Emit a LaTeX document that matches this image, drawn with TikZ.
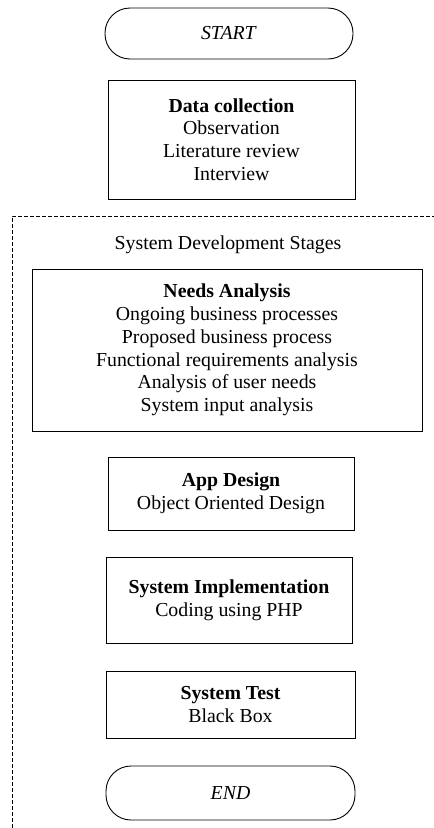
\documentclass[tikz,border=0pt]{standalone}
\usepackage{fontspec}
\setmainfont{Liberation Serif}
\usepackage{tikz}

\tikzset{
  txt/.style={font=\fontsize{19.8}{22.7}\selectfont, align=center, inner sep=0pt},
  stagebox/.style={txt, draw, line width=0.9pt, rectangle},
  terminal/.style={txt, draw, line width=0.9pt, rectangle, rounded corners=25pt}
}

\begin{document}
\begin{tikzpicture}[x=1pt, y=-1pt]
  \useasboundingbox (0,0) rectangle (434,828);

  % Start and data collection
  \node[terminal, minimum width=248pt, minimum height=51pt] (start) at (229,33.5) {\textit{START}};
  \node[stagebox, minimum width=247pt, minimum height=119pt] (data) at (231.5,139.5)
    {\textbf{Data collection}\\Observation\\Literature review\\Interview};

  % Dashed frame around the development stages (top and left side only)
  \coordinate (frameA) at (12,828);
  \coordinate (frameB) at (12,216);
  \coordinate (frameC) at (434,216);
  \draw[line width=1pt, dash pattern=on 4pt off 2pt] (frameA) -- (frameB) -- (frameC);
  \node[txt] (stages) at (228,245) {System Development Stages};

  % Stages
  \node[stagebox, minimum width=390pt, minimum height=162pt] (needs) at (227,350)
    {\textbf{Needs Analysis}\\Ongoing business processes\\Proposed business process\\
     Functional requirements analysis\\Analysis of user needs\\System input analysis};
  \node[stagebox, minimum width=246pt, minimum height=73pt] (design) at (231,493.5)
    {\textbf{App Design}\\Object Oriented Design};
  \node[stagebox, minimum width=246pt, minimum height=86pt] (impl) at (229,600)
    {\textbf{System Implementation}\\Coding using PHP};
  \node[stagebox, minimum width=249pt, minimum height=67pt] (test) at (230.5,704.5)
    {\textbf{System Test}\\Black Box};

  % End
  \node[terminal, minimum width=249pt, minimum height=54pt] (end) at (230.5,793) {\textit{END}};
\end{tikzpicture}
\end{document}
